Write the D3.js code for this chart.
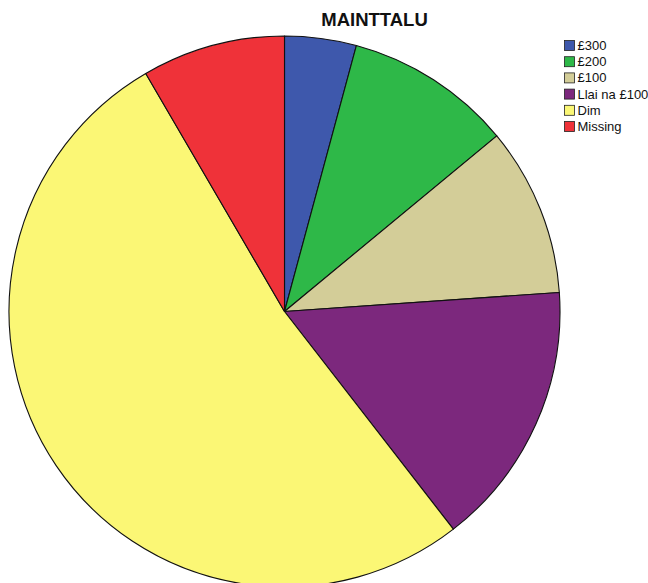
<!DOCTYPE html>
<meta charset="utf-8">
<html>
<head>
<style>
  body { margin: 0; background: #fff; }
  svg { display: block; font-family: "Liberation Sans", Arial, sans-serif; }
</style>
</head>
<body>
<script src="https://cdn.jsdelivr.net/npm/d3@7"></script>
<script>
// categories and shares (percent)
var categories = ["£300", "£200", "£100", "Llai na £100", "Dim", "Missing"];
var values = [4.2, 9.8, 9.9, 15.6, 52.1, 8.4];
var colors = ["#3e58ac", "#2eb848", "#d3cd98", "#7c287d", "#fbf775", "#ef3239"];
var title = "MAINTTALU";

var width = 648, height = 583;
var cx = 284.5, cy = 311.5, radius = 275.5;

var svg = d3.select("body").append("svg")
    .attr("width", width)
    .attr("height", height);

var data = categories.map(function(c, i) { return {cat: c, value: values[i], color: colors[i]}; });

var pie = d3.pie()
    .sort(null)
    .value(function(d) { return d.value; });

var arc = d3.arc()
    .innerRadius(0)
    .outerRadius(radius);

var g = svg.append("g")
    .attr("transform", "translate(" + cx + "," + cy + ")");

g.selectAll("path")
    .data(pie(data))
    .enter()
    .append("path")
    .attr("d", arc)
    .attr("fill", function(d) { return d.data.color; })
    .attr("stroke", "#111")
    .attr("stroke-width", 1.1)
    .attr("stroke-linejoin", "round");

// title
svg.append("text")
    .attr("x", 374.5)
    .attr("y", 25.5)
    .attr("text-anchor", "middle")
    .style("font-size", "18.5px")
    .style("font-weight", "bold")
    .style("fill", "#111")
    .text(title);

// legend
var legend = svg.append("g")
    .attr("transform", "translate(564,40)");

var row = legend.selectAll("g")
    .data(data)
    .enter()
    .append("g")
    .attr("transform", function(d, i) { return "translate(0," + (i * 16.2) + ")"; });

row.append("rect")
    .attr("x", 0.5)
    .attr("y", 0.5)
    .attr("width", 10)
    .attr("height", 10)
    .attr("fill", function(d) { return d.color; })
    .attr("stroke", "#222")
    .attr("stroke-width", 0.8);

row.append("text")
    .attr("x", 13.5)
    .attr("y", 10)
    .style("font-size", "13px")
    .style("fill", "#111")
    .text(function(d) { return d.cat; });
</script>
</body>
</html>
